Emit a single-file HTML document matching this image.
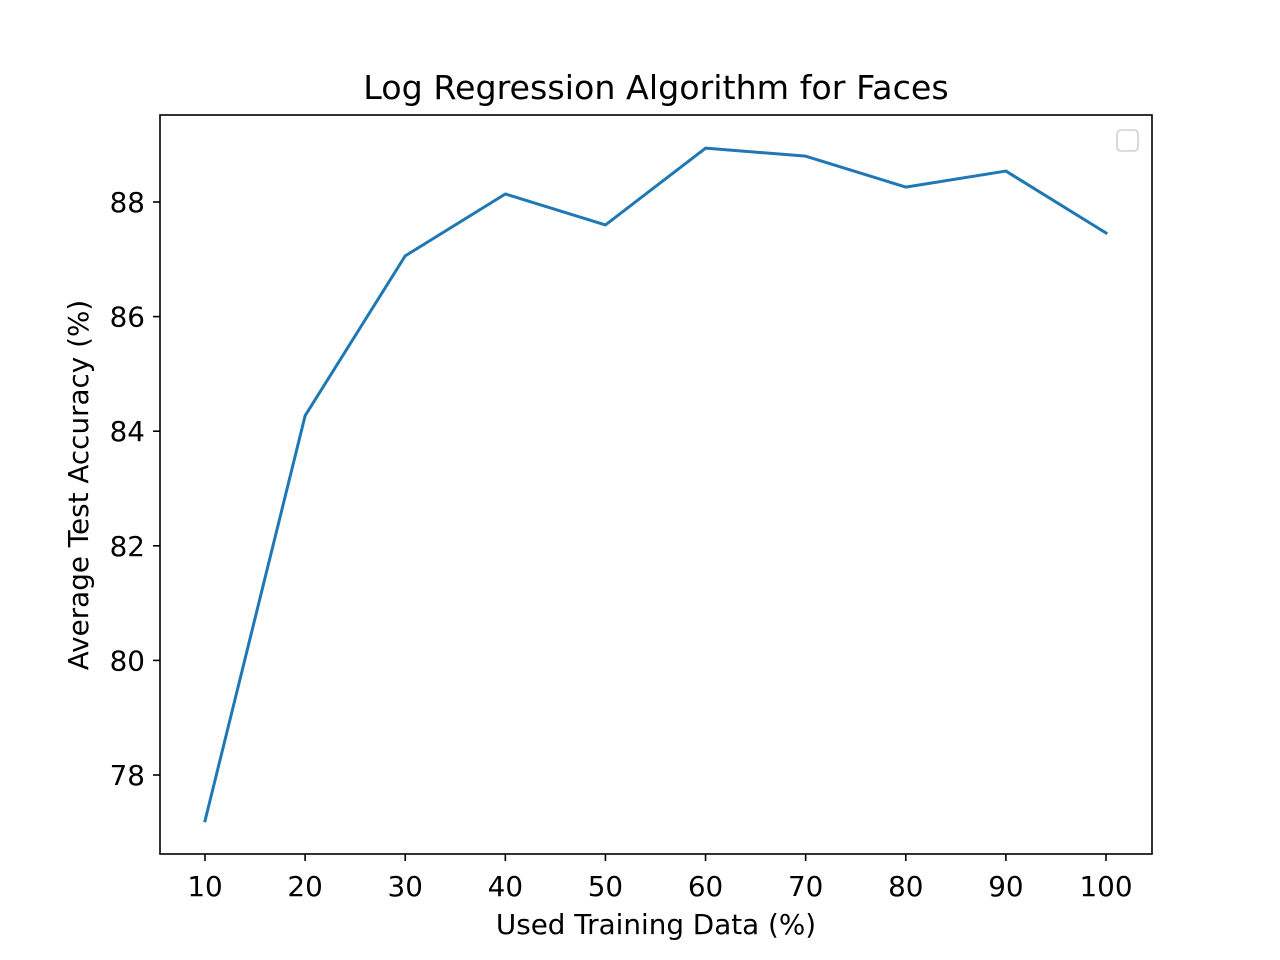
<!DOCTYPE html>
<html><head><meta charset="utf-8"><style>body{margin:0;background:#fff}svg{display:block;font-family:"DejaVu Sans","Liberation Sans",sans-serif}</style></head>
<body>
<svg id="chart" width="1280" height="960">
<rect x="0" y="0" width="1280" height="960" fill="#fff"/>
<g id="plot"></g>
</svg>
<script>
const xValues = [10,20,30,40,50,60,70,80,90,100];
const accuracy = [77.2,84.27,87.06,88.14,87.6,88.94,88.8,88.26,88.54,87.46];
const xTicks = [10,20,30,40,50,60,70,80,90,100];
const yTicks = [78,80,82,84,86,88];
const L=160,R=1152,T=115,B=854;
function sx(v){return 205+(v-10)*(1106-205)/90;}
function sy(v){return 775-(v-78)*(775-202)/10;}
const NS="http://www.w3.org/2000/svg";
const g=document.getElementById('plot');
function el(tag,attrs,txt){const e=document.createElementNS(NS,tag);for(const k in attrs)e.setAttribute(k,attrs[k]);if(txt!==undefined)e.textContent=txt;g.appendChild(e);return e;}
const pts=xValues.map((x,i)=>sx(x)+','+sy(accuracy[i])).join(' ');
const line=el('polyline',{points:pts,fill:'none',stroke:'#1f77b4','stroke-width':3,'stroke-linejoin':'round','stroke-linecap':'square'});


const frame=el('rect',{x:L,y:T,width:R-L,height:B-T,fill:'none',stroke:'#000','stroke-width':1.6});


xTicks.forEach(v=>{
  const x=sx(v);
  const t=el('line',{x1:x,x2:x,y1:B,y2:B+7,stroke:'#000','stroke-width':1.6});
  
  
  const lb=el('text',{x:x,y:B+42,'text-anchor':'middle','font-size':27.8},String(v));
  
  
});
yTicks.forEach(v=>{
  const y=sy(v);
  const t=el('line',{x1:L-7,x2:L,y1:y,y2:y,stroke:'#000','stroke-width':1.6});
  
  
  const lb=el('text',{x:L-15,y:y+10,'text-anchor':'end','font-size':27.8},String(v));
  
  
});
const title=el('text',{x:656,y:99,'text-anchor':'middle','font-size':33.3},'Log Regression Algorithm for Faces');


const xl=el('text',{x:656,y:934,'text-anchor':'middle','font-size':27.8},'Used Training Data (%)');


const yl=el('text',{x:0,y:0,'text-anchor':'middle','font-size':27.8,transform:'translate(88,485) rotate(-90)'},'Average Test Accuracy (%)');


const lg=el('rect',{x:1117,y:130,width:21,height:21,rx:4,fill:'#fff',stroke:'#d0d0d0','stroke-width':1.6});


</script>
</body></html>
